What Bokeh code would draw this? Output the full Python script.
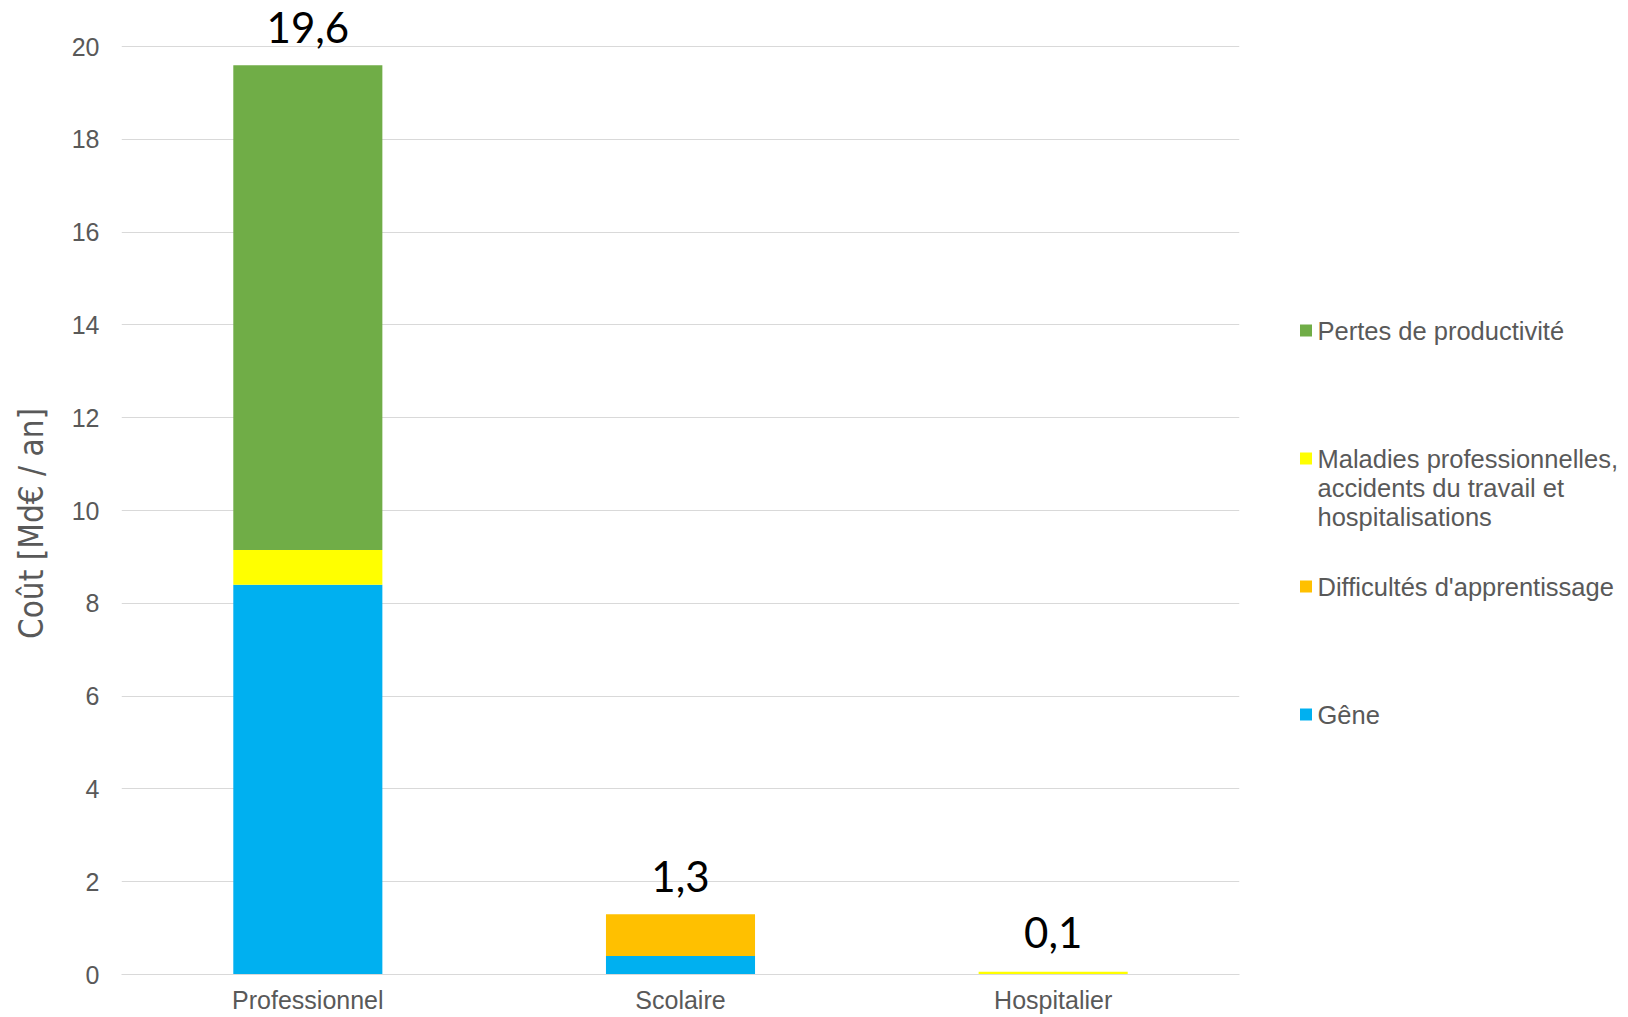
import math
from bokeh.plotting import figure
from bokeh.models import ColumnDataSource, Range1d, FactorRange, FixedTicker, LabelSet
from bokeh.layouts import row
from bokeh.embed import file_html
from bokeh.resources import INLINE
from bokeh.core.properties import value

# ---- data ----
categories = ["Professionnel", "Scolaire", "Hospitalier"]
series_names = ["Gêne", "Difficultés d'apprentissage",
                "Maladies professionnelles, accidents du travail et hospitalisations",
                "Pertes de productivité"]
gene = [8.4, 0.4, 0.0]
difficultes = [0.0, 0.9, 0.0]
maladies = [0.75, 0.0, 0.06]
pertes = [10.45, 0.0, 0.0]
colors = ["#00B0F0", "#FFC000", "#FFFF00", "#70AD47"]
legend_lines = [
    ["Gêne"],
    ["Difficultés d'apprentissage"],
    ["Maladies professionnelles,", "accidents du travail et", "hospitalisations"],
    ["Pertes de productivité"],
]
y_ticks = [0, 2, 4, 6, 8, 10, 12, 14, 16, 18, 20]
y_title = "Coût [Md€ / an]"

TEXT_GREY = "#595959"
GRID = "#D9D9D9"
FONT = "Liberation Sans"

keys = ["gene", "difficultes", "maladies", "pertes"]
totals = [round(a + b + c + d, 1) for a, b, c, d in zip(gene, difficultes, maladies, pertes)]
labels = [f"{t:.1f}".replace(".", ",") for t in totals]
source = ColumnDataSource(dict(cat=categories, gene=gene, difficultes=difficultes,
                               maladies=maladies, pertes=pertes,
                               total=totals, label=labels))

H = 1016
TOP, BOTTOM = 2, 42
LEFT_W = 60          # panel holding the vertical axis title
W = 1250             # right edge of main chart (page px)
frame_bottom_px = H - BOTTOM


def blank_panel(x0, width):
    f = figure(width=width, height=H, x_range=Range1d(x0, x0 + width),
               y_range=Range1d(frame_bottom_px, TOP),
               output_backend="svg", toolbar_location=None,
               x_axis_location=None, y_axis_location=None,
               min_border_left=0, min_border_right=0,
               min_border_top=TOP, min_border_bottom=BOTTOM)
    f.grid.visible = False
    f.outline_line_color = None
    f.background_fill_color = "white"
    f.border_fill_color = "white"
    return f


# ---- left panel: vertical axis title ----
lp = blank_panel(0, LEFT_W)
lp.text(x=[31], y=[523], text=[y_title], angle=math.pi / 2,
        text_font=value("'DejaVu Sans Condensed', 'Liberation Sans', sans-serif"),
        text_font_size="33px", text_color=TEXT_GREY,
        text_align="center", text_baseline="middle")

# ---- main chart ----
p = figure(x_range=FactorRange(*categories), y_range=Range1d(0, 20.95),
           width=W - LEFT_W, height=H, output_backend="svg", toolbar_location=None,
           min_border_left=121 - LEFT_W, min_border_right=11,
           min_border_top=TOP, min_border_bottom=BOTTOM)
p.vbar_stack(keys, x="cat", width=0.4, color=colors, line_color=None, source=source)

p.add_layout(LabelSet(x="cat", y="total", text="label", source=source,
                      text_align="center", text_baseline="bottom", y_offset=22,
                      text_font=value("Lato"), text_font_size="42px", text_color="black"))

p.outline_line_color = None
p.background_fill_color = "white"
p.border_fill_color = "white"
p.xgrid.grid_line_color = None
p.ygrid.grid_line_color = GRID
p.ygrid.grid_line_width = 1
p.yaxis.ticker = FixedTicker(ticks=y_ticks)

p.yaxis.axis_line_color = None
p.yaxis.major_tick_line_color = None
p.yaxis.minor_tick_line_color = None
p.yaxis.major_label_text_font = FONT
p.yaxis.major_label_text_font_size = "25px"
p.yaxis.major_label_text_color = TEXT_GREY
p.yaxis.major_label_standoff = 16

p.xaxis.axis_line_color = GRID
p.xaxis.axis_line_width = 1
p.xaxis.major_tick_line_color = None
p.xaxis.minor_tick_line_color = None
p.xaxis.major_label_text_font = FONT
p.xaxis.major_label_text_font_size = "25px"
p.xaxis.major_label_text_color = TEXT_GREY
p.xaxis.major_label_standoff = 5

# ---- legend panel (units = page pixels) ----
LW = 376
leg = blank_panel(W, LW)

legend_top, legend_step, line_h = 330, 128, 29
sq_x, txt_x, sq_size = 1305.5, 1317, 12
sq_ys, sq_cols, tx, ty, tt = [], [], [], [], []
for i, idx in enumerate(reversed(range(len(series_names)))):
    yc = legend_top + i * legend_step
    sq_ys.append(yc)
    sq_cols.append(colors[idx])
    for j, line in enumerate(legend_lines[idx]):
        tx.append(txt_x)
        ty.append(yc + j * line_h)
        tt.append(line)

leg.rect(x=[sq_x] * len(sq_ys), y=sq_ys, width=sq_size, height=sq_size,
         width_units="screen", height_units="screen", fill_color=sq_cols, line_color=None)
leg.text(x=tx, y=ty, text=tt, text_font=value(FONT), text_font_size="25.5px",
         text_color=TEXT_GREY, text_baseline="middle", text_align="left")

layout = row(lp, p, leg)
open("out.html", "w").write(file_html(layout, INLINE))
